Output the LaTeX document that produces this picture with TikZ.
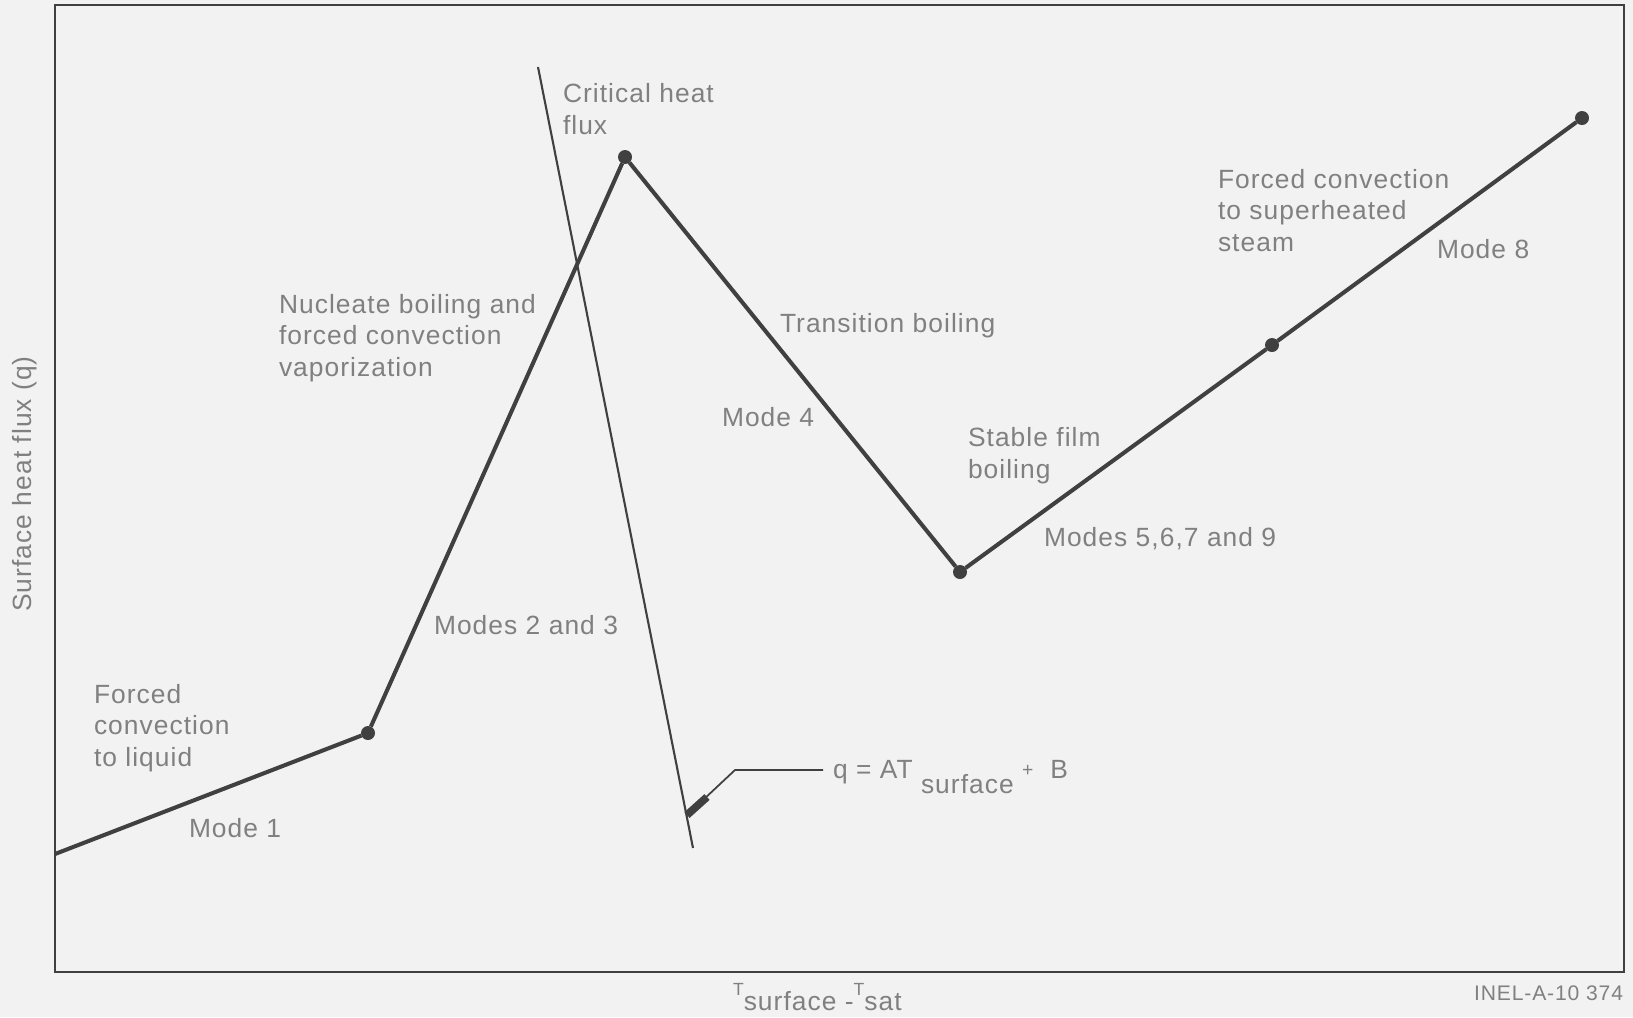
\documentclass[tikz,border=0pt]{standalone}
\usepackage{fontspec}
\setmainfont{Liberation Sans}[LetterSpace=4]
\colorlet{paperBg}{black!5}
\colorlet{curveInk}{black!75}
\colorlet{textInk}{black!50}
\tikzset{
dotstyle/.style={circle, minimum size=0.14cm, inner sep=0pt, outer sep=0pt, fill=curveInk},
labelstyle/.style={anchor=base west, inner sep=0pt, outer sep=0pt, align=left, text=textInk, font=\fontsize{7.5}{8.9}\selectfont},
curvestyle/.style={curveInk, line width=1.15pt, line join=round},
thinstyle/.style={curveInk, line width=0.6pt}
}
\newcommand{\kink}[3]{
  \node [dotstyle] (#1) at (#2,#3) {};
}
\newcommand{\lowT}{\raisebox{4pt}{\fontsize{5}{5}\selectfont T}}

\begin{document}
\begin{tikzpicture}[x=0.01cm, y=-0.01cm]

\fill [paperBg] (0,0) rectangle (1633,1017);
\useasboundingbox (0,0) rectangle (1633,1017);

% frame
\draw [curveInk, line width=0.7pt] (55,5) rectangle (1624,972);

% boiling curve
\coordinate (pa) at (55,854);
\kink{pb}{368}{733}
\kink{pc}{625}{157}
\kink{pd}{960}{572}
\kink{pe}{1272}{345}
\kink{pf}{1582}{118}
\draw [curvestyle] (pa) -- (pb) -- (pc) -- (pd) -- (pe) -- (pf);

% critical heat flux line
\coordinate (chftop) at (538,67);
\coordinate (chfbot) at (693,848);
\draw [thinstyle] (chftop) -- (chfbot);

% callout
\coordinate (qfoot) at (687,815);
\coordinate (qblob) at (707,797);
\coordinate (qbend) at (735,770);
\coordinate (qend) at (823,770);
\draw [curveInk, line width=0.5pt] (qfoot) -- (qbend) -- (qend);
\draw [curveInk, line width=2.2pt] (qfoot) -- (qblob);
\node [labelstyle] (qlabel) at (833,778) {q = AT\ \raisebox{-4.3pt}{surface}\ \raisebox{0.5pt}{\fontsize{5.5}{6}\selectfont +}\ \ B};

% labels (multi-line ones sit on their last baseline)
\node [labelstyle] (chf) at (563,134) {Critical heat\\flux};
\node [labelstyle] (nucleate) at (279,376) {Nucleate boiling and\\forced convection\\vaporization};
\node [labelstyle] (transition) at (780,332) {Transition boiling};
\node [labelstyle] (modefour) at (722,426) {Mode 4};
\node [labelstyle] (stable) at (968,478) {Stable film\\boiling};
\node [labelstyle] (modesfive) at (1044,546) {Modes 5,6,7 and 9};
\node [labelstyle] (modestwo) at (434,634) {Modes 2 and 3};
\node [labelstyle] (liquid) at (94,766) {Forced\\convection\\to liquid};
\node [labelstyle] (modeone) at (189,837) {Mode 1};
\node [labelstyle] (steam) at (1218,251) {Forced convection\\to superheated\\steam};
\node [labelstyle] (modeeight) at (1437,258) {Mode 8};

% axes
\node [labelstyle, anchor=center, rotate=90] (ylabel) at (25,484) {Surface heat flux (q)};
\node [labelstyle] (xlabel) at (733,1010) {\lowT surface -\lowT sat};
\node [labelstyle, anchor=base east, font=\fontsize{6}{6}\selectfont] (inel) at (1623,1000) {INEL-A-10 374};

\end{tikzpicture}
\end{document}
